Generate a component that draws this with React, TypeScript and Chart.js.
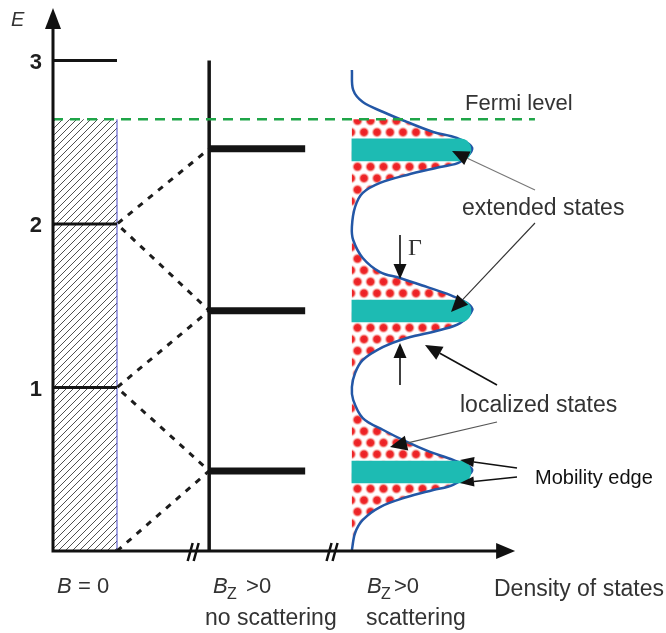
import React, { useEffect, useRef } from 'react';
import { Chart, registerables } from 'chart.js';

Chart.register(...registerables);

// ---------- values ----------
const energyTicks = [1, 2, 3];
const levelsB0 = [1, 2, 3];
const levelsBzClean = [0.49, 1.47, 2.46];
const levelsBzScatter = [0.483, 1.468, 2.453];
const extendedReach = [1.86, 1.86, 1.86];
const fermiLevel = 2.64;
const b0Top = 3.0;

// density of states (scattering), top to bottom
const dosEnergy = [
  2.942, 2.82, 2.746, 2.685, 2.624, 2.563, 2.526, 2.465, 2.379, 2.349, 2.3, 2.251, 2.19, 2.104, 1.982,
  1.902, 1.792, 1.706, 1.67, 1.615, 1.566, 1.517, 1.474, 1.394, 1.352, 1.303, 1.248, 1.168, 1.089, 1.003,
  0.924, 0.813, 0.74, 0.667, 0.606, 0.557, 0.495, 0.404, 0.373, 0.33, 0.269, 0.19, 0.11, 0.006,
];
const dosValue = [
  0.0, 0.02, 0.17, 0.49, 0.86, 1.27, 1.64, 1.88, 1.69, 1.38, 0.86, 0.44, 0.17, 0.05, 0.0,
  0.02, 0.17, 0.44, 0.75, 1.17, 1.53, 1.8, 1.88, 1.69, 1.38, 0.86, 0.49, 0.17, 0.05, 0.0,
  0.02, 0.17, 0.49, 0.86, 1.22, 1.58, 1.88, 1.58, 1.27, 0.86, 0.44, 0.17, 0.05, 0.0,
];

// ---------- layout (x units of the schematic) ----------
const COL0_RIGHT = 1;
const COL1_X = 2.44;
const COL1_LEVEL_END = 3.94;
const DOS_BASE = 4.67;
const AXIS_END = 7.22;
const FERMI_END = 7.53;
const BREAKS = [2.19, 4.36];
const X_MAX = 7.609;
const Y_MAX = 3.321;

const SANS = "'Liberation Sans', Arial, Helvetica, sans-serif";
const SERIF = "'Liberation Serif', 'Times New Roman', serif";

function makeHatch(): CanvasPattern | string {
  const c = document.createElement('canvas');
  c.width = 7;
  c.height = 7;
  const g = c.getContext('2d');
  if (!g) return '#ddd';
  g.fillStyle = '#ffffff';
  g.fillRect(0, 0, 7, 7);
  g.strokeStyle = '#3c3c3c';
  g.lineWidth = 0.9;
  g.beginPath();
  g.moveTo(-1, 8);
  g.lineTo(8, -1);
  g.moveTo(-1, 1);
  g.lineTo(1, -1);
  g.moveTo(6, 8);
  g.lineTo(8, 6);
  g.stroke();
  return g.createPattern(c, 'repeat') || '#ddd';
}

function makeDots(): CanvasPattern | string {
  const w = 26;
  const h = 23;
  const c = document.createElement('canvas');
  c.width = w;
  c.height = h;
  const g = c.getContext('2d');
  if (!g) return '#f88';
  g.fillStyle = '#ffffff';
  g.fillRect(0, 0, w, h);
  const centers = [
    [6.5, 5.75],
    [19.5, 5.75],
    [0, 17.25],
    [13, 17.25],
    [26, 17.25],
    [6.5, 28.75],
    [19.5, 28.75],
    [6.5, -5.75],
    [19.5, -5.75],
  ];
  for (const [cx, cy] of centers) {
    const gr = g.createRadialGradient(cx, cy, 0, cx, cy, 6);
    gr.addColorStop(0, '#ec1c24');
    gr.addColorStop(0.52, '#ee2a2a');
    gr.addColorStop(0.72, '#f7a8a3');
    gr.addColorStop(1, 'rgba(255,255,255,0)');
    g.fillStyle = gr;
    g.beginPath();
    g.arc(cx, cy, 6, 0, Math.PI * 2);
    g.fill();
  }
  return g.createPattern(c, 'repeat') || '#f88';
}

function arrow(
  ctx: CanvasRenderingContext2D,
  x1: number, y1: number, x2: number, y2: number,
  color: string, lw: number, headLen: number, headW: number,
) {
  const a = Math.atan2(y2 - y1, x2 - x1);
  const bx = x2 - headLen * Math.cos(a);
  const by = y2 - headLen * Math.sin(a);
  ctx.strokeStyle = color;
  ctx.lineWidth = lw;
  ctx.beginPath();
  ctx.moveTo(x1, y1);
  ctx.lineTo(bx, by);
  ctx.stroke();
  ctx.fillStyle = '#111';
  ctx.beginPath();
  ctx.moveTo(x2, y2);
  ctx.lineTo(bx + (headW / 2) * Math.sin(a), by - (headW / 2) * Math.cos(a));
  ctx.lineTo(bx - (headW / 2) * Math.sin(a), by + (headW / 2) * Math.cos(a));
  ctx.closePath();
  ctx.fill();
}

export default function App() {
  const ref = useRef<HTMLCanvasElement | null>(null);

  useEffect(() => {
    const canvas = ref.current;
    if (!canvas) return;
    const hatch = makeHatch();
    const dots = makeDots();

    const seg = (x0: number, y0: number, x1: number, y1: number) => [
      { x: x0, y: y0 },
      { x: x1, y: y1 },
    ];
    const lineDs = (data: any[], color: string, width: number, order: number, extra: any = {}) => ({
      type: 'line' as const,
      data,
      borderColor: color,
      borderWidth: width,
      pointRadius: 0,
      fill: false,
      tension: 0,
      order,
      ...extra,
    });

    const zigzag: { x: number; y: number }[] = [{ x: COL0_RIGHT, y: 0 }];
    levelsBzClean.forEach((e, i) => {
      zigzag.push({ x: COL1_X, y: e });
      if (i < levelsBzClean.length - 1) zigzag.push({ x: COL0_RIGHT, y: levelsB0[i] });
    });

    const curve = dosEnergy.map((e, i) => ({ x: DOS_BASE + dosValue[i], y: e }));

    const datasets: any[] = [];
    datasets.push(
      lineDs(seg(0, fermiLevel, COL0_RIGHT, fermiLevel), 'rgba(0,0,0,0)', 0, 30, {
        fill: 'origin',
        backgroundColor: hatch,
      }),
    );
    datasets.push(lineDs(seg(COL0_RIGHT, 0, COL0_RIGHT, fermiLevel), '#4848c8', 1, 29));
    levelsB0.forEach((e) => datasets.push(lineDs(seg(0, e, COL0_RIGHT, e), '#141414', 3, 28)));
    datasets.push(lineDs(zigzag, '#1c1c1c', 3, 27, { borderDash: [6, 7] }));
    datasets.push(lineDs(seg(COL1_X, 0, COL1_X, b0Top), '#141414', 3.5, 26));
    levelsBzClean.forEach((e) => datasets.push(lineDs(seg(COL1_X, e, COL1_LEVEL_END, e), '#141414', 7, 25)));
    const curveIndex = datasets.length;
    datasets.push(lineDs(curve, '#2357a6', 2.5, 21, { tension: 0.35 }));
    datasets.push({
      type: 'bar' as const,
      indexAxis: 'y',
      data: levelsBzScatter.map((e, i) => ({ x: [DOS_BASE, DOS_BASE + extendedReach[i]], y: e })),
      backgroundColor: '#1dbbb3',
      borderWidth: 0,
      barThickness: 22,
      borderRadius: 11,
      grouped: false,
      order: 20,
    });
    datasets.push(
      lineDs(seg(0, fermiLevel, FERMI_END, fermiLevel), '#1fa548', 2.5, 10, { borderDash: [10, 7] }),
    );

    const decor = {
      id: 'decor',
      beforeDatasetsDraw(chart: any) {
        const ctx: CanvasRenderingContext2D = chart.ctx;
        const xs = chart.scales.x;
        const ys = chart.scales.y;
        const meta = chart.getDatasetMeta(curveIndex);
        const line = meta.dataset;
        ctx.save();
        ctx.beginPath();
        const yTop = ys.getPixelForValue(fermiLevel);
        const yBot = ys.getPixelForValue(0);
        const xl = xs.getPixelForValue(DOS_BASE) - 1;
        ctx.rect(xl, yTop, chart.chartArea.right - xl, yBot - yTop);
        ctx.clip();
        ctx.beginPath();
        if (line && typeof line.path === 'function') {
          if (typeof line.updateControlPoints === 'function') line.updateControlPoints(chart.chartArea, 'x');
          line.path(ctx);
        } else {
          meta.data.forEach((p: any, i: number) => (i ? ctx.lineTo(p.x, p.y) : ctx.moveTo(p.x, p.y)));
        }
        ctx.closePath();
        ctx.fillStyle = dots;
        ctx.fill();
        ctx.restore();
      },
      afterDatasetsDraw(chart: any) {
        const ctx: CanvasRenderingContext2D = chart.ctx;
        const xs = chart.scales.x;
        const ys = chart.scales.y;
        const X = (v: number) => xs.getPixelForValue(v);
        const Y = (v: number) => ys.getPixelForValue(v);
        const top = chart.chartArea.top;
        ctx.save();
        // axes
        ctx.strokeStyle = '#111';
        ctx.fillStyle = '#111';
        ctx.lineWidth = 3;
        ctx.lineCap = 'butt';
        ctx.beginPath();
        ctx.moveTo(X(0), Y(0) + 1.5);
        ctx.lineTo(X(0), top + 18);
        ctx.moveTo(X(0) - 1.5, Y(0));
        ctx.lineTo(X(AXIS_END) - 16, Y(0));
        ctx.stroke();
        ctx.beginPath();
        ctx.moveTo(X(0), top);
        ctx.lineTo(X(0) + 8, top + 21);
        ctx.lineTo(X(0) - 8, top + 21);
        ctx.closePath();
        ctx.fill();
        ctx.beginPath();
        ctx.moveTo(X(AXIS_END), Y(0));
        ctx.lineTo(X(AXIS_END) - 19, Y(0) - 8);
        ctx.lineTo(X(AXIS_END) - 19, Y(0) + 8);
        ctx.closePath();
        ctx.fill();
        // axis breaks
        ctx.lineWidth = 2.5;
        for (const b of BREAKS) {
          const cx = X(b);
          const y0 = Y(0);
          ctx.beginPath();
          ctx.moveTo(cx - 5.5, y0 + 10);
          ctx.lineTo(cx - 0.5, y0 - 8);
          ctx.moveTo(cx + 0.5, y0 + 10);
          ctx.lineTo(cx + 5.5, y0 - 8);
          ctx.stroke();
        }
        // tick labels
        ctx.fillStyle = '#1e1e1e';
        ctx.font = `bold 22px ${SANS}`;
        ctx.textAlign = 'right';
        ctx.textBaseline = 'middle';
        for (const t of energyTicks) ctx.fillText(String(t), X(0) - 11, Y(t) + 2);
        ctx.textAlign = 'left';
        ctx.textBaseline = 'alphabetic';
        ctx.fillStyle = '#333';
        ctx.font = `italic 20px ${SANS}`;
        ctx.fillText('E', 11, 26);

        // arrows
        arrow(ctx, 400, 235, 400, 279, '#111', 1.6, 15, 13);
        arrow(ctx, 400, 385, 400, 343, '#111', 1.6, 15, 13);
        arrow(ctx, 535, 190, 452, 151, '#777', 1.1, 17, 15);
        arrow(ctx, 535, 223, 451, 312, '#333', 1.1, 17, 15);
        arrow(ctx, 497, 385, 425, 345, '#111', 1.6, 17, 15);
        arrow(ctx, 497, 422, 390, 447, '#555', 1.1, 17, 15);
        arrow(ctx, 517, 468, 460, 460, '#111', 1.6, 14, 10);
        arrow(ctx, 517, 477, 460, 483, '#111', 1.6, 14, 10);

        // labels
        ctx.fillStyle = '#333';
        ctx.font = `22px ${SANS}`;
        ctx.fillText('Fermi level', 465, 110);
        ctx.font = `23px ${SANS}`;
        ctx.fillText('extended states', 462, 215);
        ctx.fillText('localized states', 460, 412);
        ctx.font = `20px ${SANS}`;
        ctx.fillStyle = '#111';
        ctx.fillText('Mobility edge', 535, 484);
        ctx.fillStyle = '#333';
        ctx.font = `23px ${SANS}`;
        ctx.fillText('Density of states', 494, 596);
        // column captions
        ctx.font = `italic 22px ${SANS}`;
        ctx.fillText('B', 57, 593);
        ctx.font = `22px ${SANS}`;
        ctx.fillText(' = 0', 72, 593);
        const bz = (x: number, gt: string) => {
          ctx.font = `italic 22px ${SANS}`;
          ctx.fillText('B', x, 593);
          ctx.font = `16px ${SANS}`;
          ctx.fillText('Z', x + 14, 599);
          ctx.font = `22px ${SANS}`;
          ctx.fillText(gt, x + 27, 593);
        };
        bz(213, ' >0');
        bz(367, '>0');
        ctx.font = `23px ${SANS}`;
        ctx.fillText('no scattering', 205, 625);
        ctx.fillText('scattering', 366, 625);
        ctx.font = `24px ${SERIF}`;
        ctx.fillText('Γ', 408, 255);
        ctx.restore();
      },
    };

    const chart = new Chart(canvas, {
      type: 'line',
      data: { datasets },
      options: {
        responsive: false,
        animation: false,
        devicePixelRatio: 1,
        layout: { padding: { left: 53, top: 8, right: 126, bottom: 82 } },
        plugins: { legend: { display: false }, tooltip: { enabled: false } },
        events: [],
        scales: {
          x: { type: 'linear', display: false, min: 0, max: X_MAX, offset: false, grid: { offset: false } },
          y: { type: 'linear', display: false, min: 0, max: Y_MAX, offset: false, grid: { offset: false } },
        },
      },
      plugins: [decor],
    } as any);
    return () => chart.destroy();
  }, []);

  return (
    <div style={{ position: 'fixed', left: 0, top: 0, width: 666, height: 633, background: '#fff' }}>
      <canvas ref={ref} width={666} height={633} style={{ display: 'block', width: 666, height: 633 }} />
    </div>
  );
}
